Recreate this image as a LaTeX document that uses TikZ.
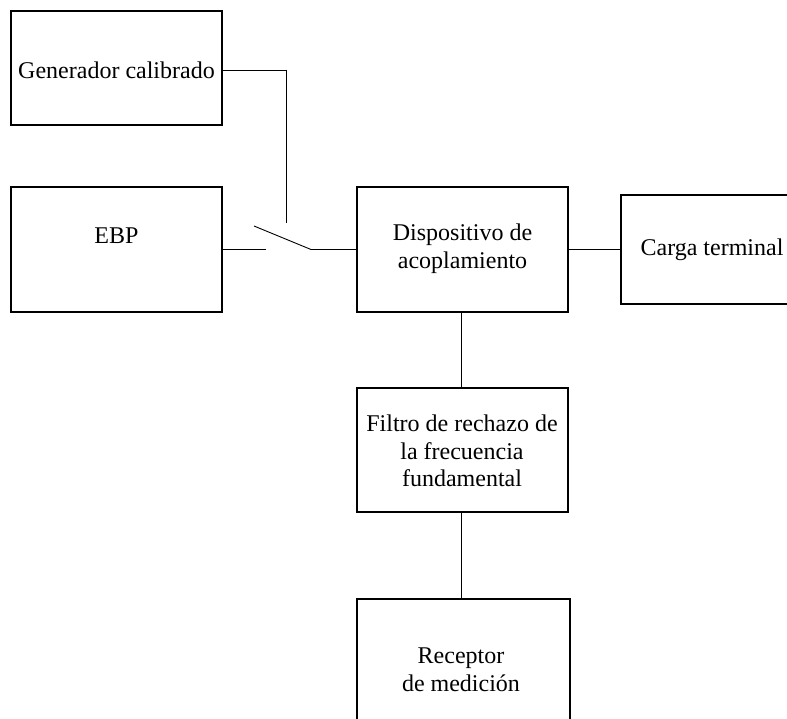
\documentclass[tikz,border=0pt]{standalone}
\usepackage{fontspec}
\setmainfont{Liberation Serif}
\begin{document}
\begin{tikzpicture}[x=1pt,y=-1pt,
  box/.style={draw, rectangle, line width=1.2pt, inner sep=0pt},
  lbl/.style={font=\fontsize{24}{27.6}\selectfont, align=center, inner sep=0pt},
  wire/.style={line width=0.9pt}]
\useasboundingbox (0,0) rectangle (787,719);
% boxes
\node[box, minimum width=211pt, minimum height=114pt] (gen) at (116.5,68) {};
\node[lbl] (gentxt) at (116.5,70) {Generador calibrado};
\node[box, minimum width=211pt, minimum height=125pt] (ebp) at (116.5,249.5) {};
\node[lbl] (ebptxt) at (116.5,236) {EBP};
\node[box, minimum width=211pt, minimum height=125pt] (disp) at (462.5,249.5) {};
\node[lbl] (disptxt) at (462.5,249) {Dispositivo de\\acoplamiento};
\node[box, minimum width=189pt, minimum height=109pt] (carga) at (715.5,249.5) {};
\node[lbl] (cargatxt) at (712,250) {Carga terminal};
\node[box, minimum width=211pt, minimum height=124pt] (filt) at (462.5,450) {};
\node[lbl] (filttxt) at (462,451) {Filtro de rechazo de\\la frecuencia\\fundamental};
\node[box, minimum width=213pt, minimum height=161pt] (rec) at (463.5,679.5) {};
\node[lbl] (rectxt) at (461,670) {Receptor\\de medición};
% switch
\coordinate (swtop) at (286,223);
\coordinate (swA) at (266,249.5);
\coordinate (bladeA) at (254,226);
\coordinate (bladeB) at (311,249.5);
\draw[wire] ([yshift=-2pt]gen.east) -| (swtop);
\draw[wire] (ebp.east) -- (swA);
\draw[wire] (bladeA) -- (bladeB);
\draw[wire] (bladeB) -- (disp.west);
\draw[wire] (disp.east) -- (carga.west);
\draw[wire] ([xshift=-1.5pt]disp.south) -- ([xshift=-1.5pt]filt.north);
\draw[wire] ([xshift=-1.5pt]filt.south) -- ([xshift=-1.5pt]filt.south |- rec.north);
\end{tikzpicture}
\end{document}
